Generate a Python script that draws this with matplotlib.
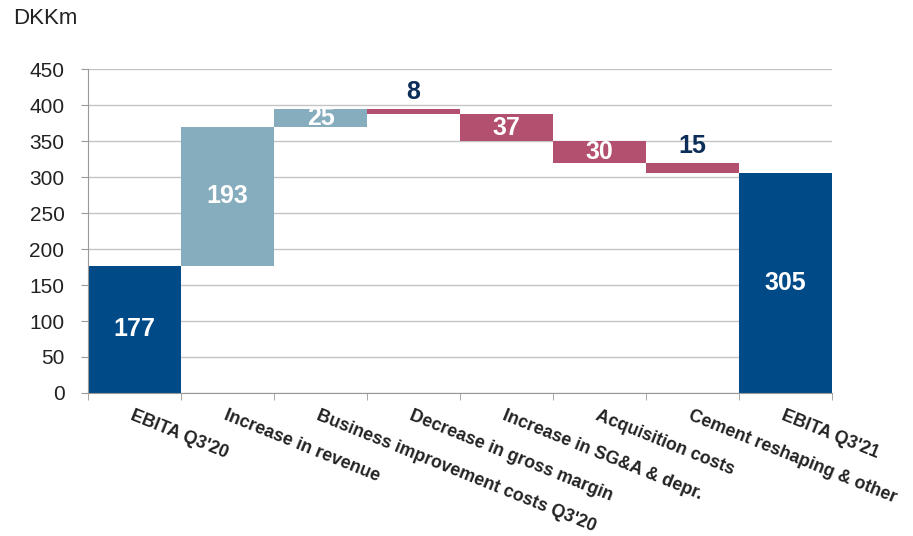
import numpy as np
import matplotlib.pyplot as plt

plt.rcParams['font.family'] = ['Liberation Sans', 'DejaVu Sans']

# waterfall data (DKKm)
categories = ["EBITA Q3'20", "Increase in revenue", "Business improvement costs Q3'20",
              "Decrease in gross margin", "Increase in SG&A & depr.", "Acquisition costs",
              "Cement reshaping & other", "EBITA Q3'21"]
changes = [177, 193, 25, -8, -37, -30, -15, 305]
kinds = ["total", "up", "up", "down", "down", "down", "down", "total"]
yticks = [0, 50, 100, 150, 200, 250, 300, 350, 400, 450]

colors = {"total": "#004A87", "up": "#86ADBD", "down": "#B4506F"}

# compute bottoms / heights of each bar
bottoms, heights = [], []
running = 0
for c, k in zip(changes, kinds):
    if k == "total":
        bottoms.append(0)
        heights.append(c)
        running = c
    elif c >= 0:
        bottoms.append(running)
        heights.append(c)
        running += c
    else:
        bottoms.append(running + c)
        heights.append(-c)
        running += c

fig = plt.figure(figsize=(9.13, 5.36), dpi=100)
ax = fig.add_axes([0.0964, 0.2668, 0.8149, 0.6044])

x = np.arange(len(categories))
ax.bar(x, heights, bottom=bottoms, width=1.0,
       color=[colors[k] for k in kinds], zorder=2)

# value labels
for xi, b, h, c, k in zip(x, bottoms, heights, changes, kinds):
    if h >= 20:
        ax.text(xi, b + h / 2, str(abs(c)), ha='center', va='center',
                color='white', fontsize=18, fontweight='bold', zorder=3)
    else:
        ax.annotate(str(abs(c)), (xi, b + h), xytext=(0, 7), textcoords='offset points',
                    ha='center', va='baseline', color='#0B2D58',
                    fontsize=18, fontweight='bold', zorder=3)

ax.set_xlim(-0.5, len(categories) - 0.5)
ax.set_ylim(0, 450)
ax.set_yticks(yticks)
ax.tick_params(axis='y', labelsize=15, length=5, pad=12, colors='#999999', labelcolor='#222222')
ax.yaxis.grid(True, color='#C4C4C4', linewidth=1, zorder=0)
ax.set_axisbelow(True)

# category labels at bar centres, tick marks at boundaries
ax.set_xticks(x)
ax.set_xticklabels(categories, rotation=-22, ha='left', va='top',
                   rotation_mode='anchor', fontsize=12.8, fontweight='bold', color='#222222')
ax.tick_params(axis='x', which='major', length=0, pad=10)
ax.set_xticks(np.arange(-0.5, len(categories)), minor=True)
ax.tick_params(axis='x', which='minor', length=5, color='#999999')

for s in ['top', 'right']:
    ax.spines[s].set_visible(False)
for s in ['left', 'bottom']:
    ax.spines[s].set_color('#999999')

fig.text(13 / 913, 1 - 18 / 536, "DKKm", fontsize=16, color='#222222', va='center')

fig.savefig("out.png", dpi=100)
